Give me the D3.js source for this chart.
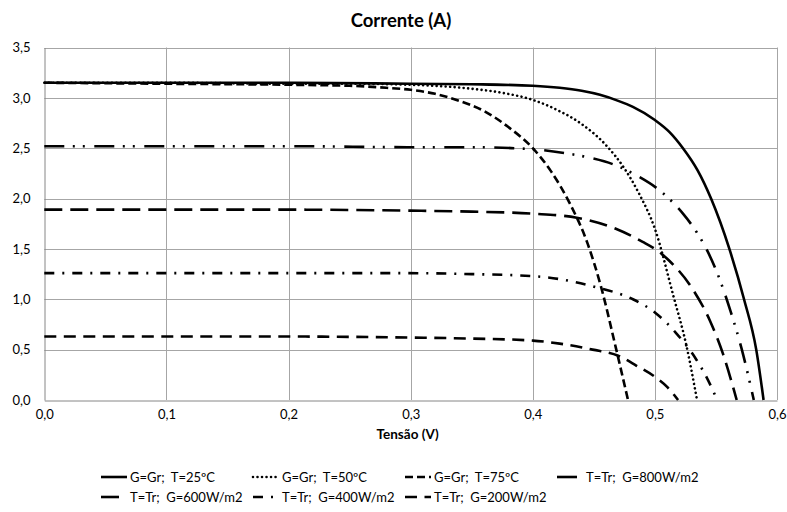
<!DOCTYPE html>
<html>
<head>
<meta charset="utf-8">
<script src="https://cdn.jsdelivr.net/npm/d3@7"></script>
<style>
  html, body { margin: 0; padding: 0; background: #fff; }
  svg { display: block; font-family: Lato, "Open Sans", sans-serif; }
  text { white-space: pre; }
</style>
</head>
<body>
<svg id="chart" width="787" height="512"></svg>
<script>
// ---- Data ----
const chartTitle = "Corrente (A)";
const xTitle = "Tensão (V)";
const xTicks = [0, 0.1, 0.2, 0.3, 0.4, 0.5, 0.6];
const yTicks = [0, 0.5, 1.0, 1.5, 2.0, 2.5, 3.0, 3.5];

const seriesNames = [
  "G=Gr;  T=25ºC",
  "G=Gr;  T=50ºC",
  "G=Gr;  T=75ºC",
  "T=Tr;  G=800W/m2",
  "T=Tr;  G=600W/m2",
  "T=Tr;  G=400W/m2",
  "T=Tr;  G=200W/m2"
];

const v25 = [0, 0.1, 0.2, 0.3, 0.35, 0.4, 0.422, 0.44, 0.455, 0.47, 0.482, 0.5, 0.512, 0.523, 0.535, 0.546, 0.561, 0.573, 0.583, 0.589];
const i25 = [3.15, 3.15, 3.15, 3.14, 3.135, 3.12, 3.10, 3.07, 3.03, 2.97, 2.91, 2.78, 2.66, 2.50, 2.28, 2.00, 1.50, 1.00, 0.50, 0.0];

const v50 = [0, 0.1, 0.2, 0.25, 0.3, 0.35, 0.375, 0.4, 0.42, 0.44, 0.46, 0.475, 0.487, 0.5, 0.515, 0.526, 0.5345];
const i50 = [3.15, 3.15, 3.14, 3.14, 3.13, 3.09, 3.05, 2.98, 2.88, 2.74, 2.53, 2.30, 2.05, 1.70, 1.04, 0.53, 0.0];

const v75 = [0, 0.1, 0.2, 0.25, 0.28, 0.3, 0.32, 0.34, 0.36, 0.38, 0.4, 0.415, 0.43, 0.445, 0.456, 0.468, 0.478];
const i75 = [3.15, 3.14, 3.13, 3.12, 3.10, 3.08, 3.04, 2.97, 2.87, 2.71, 2.50, 2.27, 1.96, 1.55, 1.12, 0.52, 0.0];

const v800 = [0, 0.1, 0.2, 0.3, 0.35, 0.4, 0.427, 0.445, 0.468, 0.485, 0.504, 0.523, 0.534, 0.543, 0.553, 0.562, 0.571, 0.581];
const i800 = [2.52, 2.52, 2.52, 2.51, 2.51, 2.49, 2.45, 2.41, 2.33, 2.23, 2.08, 1.85, 1.67, 1.48, 1.20, 0.88, 0.51, 0.0];

const v600 = [0, 0.1, 0.2, 0.3, 0.35, 0.4, 0.436, 0.468, 0.49, 0.5, 0.512, 0.531, 0.545, 0.556, 0.567];
const i600 = [1.89, 1.89, 1.89, 1.88, 1.87, 1.85, 1.81, 1.70, 1.57, 1.50, 1.38, 1.10, 0.79, 0.45, 0.0];

const v400 = [0, 0.1, 0.2, 0.291, 0.35, 0.4, 0.422, 0.452, 0.482, 0.501, 0.517, 0.534, 0.543, 0.551];
const i400 = [1.26, 1.26, 1.26, 1.26, 1.25, 1.23, 1.20, 1.12, 1.00, 0.86, 0.67, 0.40, 0.21, 0.0];

const v200 = [0, 0.1, 0.2, 0.3, 0.35, 0.4, 0.422, 0.441, 0.449, 0.47, 0.485, 0.5, 0.51, 0.519];
const i200 = [0.63, 0.63, 0.63, 0.62, 0.61, 0.59, 0.56, 0.52, 0.50, 0.44, 0.34, 0.23, 0.13, 0.0];

const seriesV = [v25, v50, v75, v800, v600, v400, v200];
const seriesI = [i25, i50, i75, i800, i600, i400, i200];

// ---- Styles ----
const dashes = [null, "0.01,4.5", "8,4", "20,8.5,2,8,2,9.5", "18,8", "10,8,2,8", "12,7.5"];
const caps = ["butt", "round", "butt", "butt", "butt", "butt", "butt"];

// ---- Layout ----
const svg = d3.select("#chart");
const plot = { left: 44.3, right: 777, top: 47.5, bottom: 400 };
const x = d3.scaleLinear().domain([0, 0.6]).range([plot.left, plot.right]);
const y = d3.scaleLinear().domain([0, 3.5]).range([plot.bottom, plot.top]);
const fmt = d => d3.format(".1f")(d).replace(".", ",");

// gridlines
const grid = svg.append("g");
grid.selectAll("line.h").data(yTicks.filter(d => d > 0)).enter().append("line")
  .attr("x1", plot.left).attr("x2", plot.right)
  .attr("y1", d => Math.round(y(d)) + 0.5).attr("y2", d => Math.round(y(d)) + 0.5)
  .attr("stroke", "#a6a6a6").attr("stroke-width", 1);
grid.selectAll("line.v").data(xTicks.filter(d => d > 0)).enter().append("line")
  .attr("y1", plot.top).attr("y2", plot.bottom)
  .attr("x1", d => Math.round(x(d)) + 0.5).attr("x2", d => Math.round(x(d)) + 0.5)
  .attr("stroke", "#a6a6a6").attr("stroke-width", 1);

// axes
const xAxis = d3.axisBottom(x).tickValues(xTicks).tickFormat(fmt).tickSize(0).tickPadding(9);
const yAxis = d3.axisLeft(y).tickValues(yTicks).tickFormat(fmt).tickSize(0).tickPadding(14);
const gx = svg.append("g").attr("transform", `translate(0,${Math.round(plot.bottom) + 0.5})`).call(xAxis);
const gy = svg.append("g").attr("transform", `translate(${Math.round(plot.left) + 0.5},0)`).call(yAxis);
[gx, gy].forEach(g => {
  g.select(".domain").attr("stroke", "#868686").attr("stroke-width", 1);
  g.selectAll("text").attr("font-family", "Lato, sans-serif").attr("font-size", 13).attr("fill", "#000");
});

// curves
const line = d3.line().x(d => x(d[0])).y(d => y(d[1])).curve(d3.curveMonotoneX);
const curves = svg.append("g");
seriesNames.forEach((name, k) => {
  const pts = seriesV[k].map((v, j) => [v, seriesI[k][j]]);
  curves.append("path")
    .attr("d", line(pts))
    .attr("fill", "none")
    .attr("stroke", "#000")
    .attr("stroke-width", 2.6)
    .attr("stroke-linecap", caps[k])
    .attr("stroke-dasharray", dashes[k]);
});

// titles
svg.append("text").attr("x", 401).attr("y", 27).attr("text-anchor", "middle")
  .attr("font-size", 18.5).attr("font-weight", "bold").text(chartTitle);
svg.append("text").attr("x", (plot.left + plot.right) / 2 - 3).attr("y", 439).attr("text-anchor", "middle")
  .attr("font-size", 13.5).attr("font-weight", "bold").text(xTitle);

// legend (4-column grid)
const legend = svg.append("g");
const colW = 152, legX0 = 101, rowY = [477, 497], sampleLen = 26, textOff = 29;
seriesNames.forEach((name, k) => {
  const col = k % 4, row = Math.floor(k / 4);
  const gx0 = legX0 + col * colW, gy0 = rowY[row];
  const item = legend.append("g").attr("transform", `translate(${gx0},${gy0})`);
  item.append("line").attr("x1", 0).attr("x2", sampleLen).attr("y1", 0).attr("y2", 0)
    .attr("stroke", "#000").attr("stroke-width", 2.6)
    .attr("stroke-linecap", caps[k])
    .attr("stroke-dasharray", dashes[k]);
  item.append("text").attr("x", textOff).attr("y", 4.5).attr("font-size", 13).attr("fill", "#000").text(name);
});
</script>
</body>
</html>
